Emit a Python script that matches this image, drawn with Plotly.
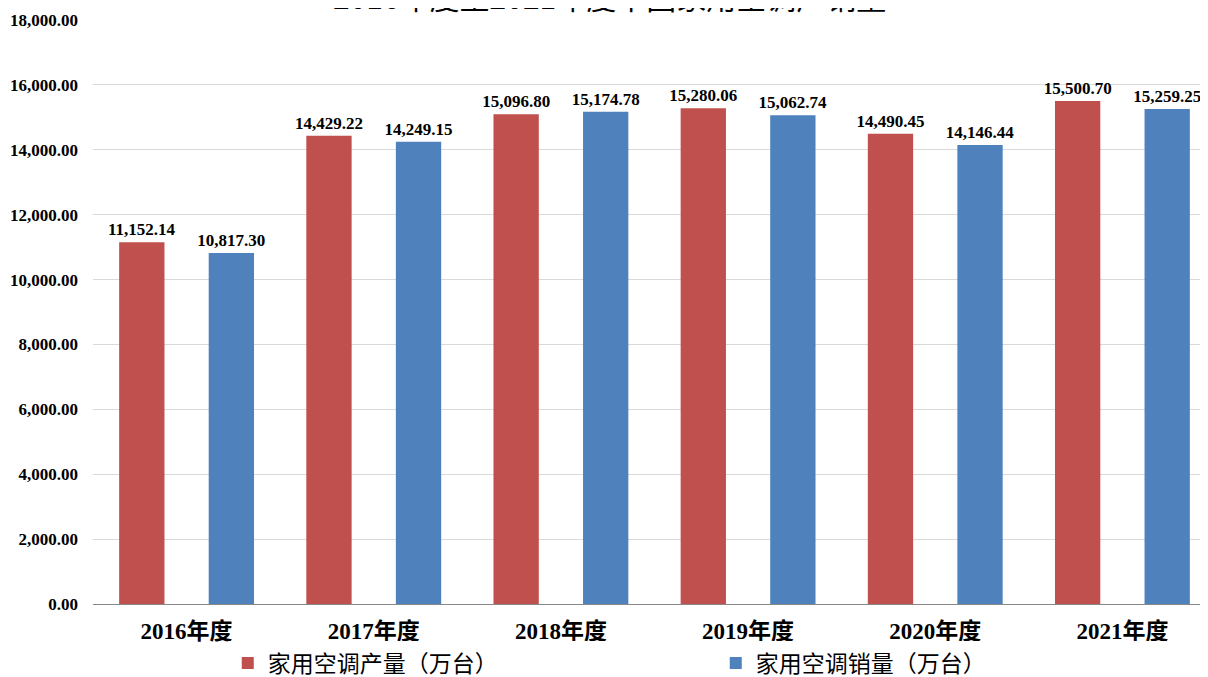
import plotly.graph_objects as go

categories = ["2016年度", "2017年度", "2018年度", "2019年度", "2020年度", "2021年度"]
production = [11152.14, 14429.22, 15096.80, 15280.06, 14490.45, 15500.70]
sales = [10817.30, 14249.15, 15174.78, 15062.74, 14146.44, 15259.25]
series_names = ["家用空调产量（万台）", "家用空调销量（万台）"]
title_text = "2016年度至2021年度中国家用空调产销量"

serif = "Liberation Serif, Noto Sans CJK SC"

fig = go.Figure()
for name, vals, color in [(series_names[0], production, "#C0504D"),
                          (series_names[1], sales, "#4F81BD")]:
    fig.add_trace(go.Bar(
        x=categories, y=vals, name=name,
        marker=dict(color=color, line=dict(width=0)),
        texttemplate="<b>%{y:,.2f}</b>", textposition="outside",
        constraintext="none",
        textfont=dict(family=serif, size=17, color="black"),
        cliponaxis=False,
    ))

fig.add_annotation(text=title_text, xref="paper", yref="paper",
                   x=0.4595, y=1, xanchor="center", yanchor="middle",
                   yshift=24, showarrow=False,
                   font=dict(family="Noto Sans CJK SC", size=30, color="black"))

fig.update_layout(
    width=1208, height=677,
    margin=dict(l=85, r=0, t=12, b=81, autoexpand=False),
    paper_bgcolor="white", plot_bgcolor="white",
    barmode="group", bargap=0.043, bargroupgap=0.494,
    showlegend=True,
    legend=dict(orientation="h", x=0.12, xanchor="left",
                y=0.0325, yref="container", yanchor="middle",
                entrywidth=443, entrywidthmode="pixels",
                font=dict(family=serif, size=23, color="black"),
                itemwidth=30, traceorder="normal"),
    xaxis=dict(showline=True, linecolor="#898989", linewidth=1,
               tickfont=dict(family=serif, size=23, color="black"),
               ticks="", tickprefix="<b>", ticksuffix="</b>",
               ticklabelstandoff=6, automargin=False),
    yaxis=dict(range=[0, 18000], dtick=2000, tickformat=",.2f",
               showgrid=True, gridcolor="#d9d9d9", gridwidth=1,
               zeroline=False, showline=False, automargin=False,
               tickfont=dict(family=serif, size=17, color="black"),
               tickprefix="<b>", ticksuffix="</b>", ticklabelstandoff=14),
)

fig.write_html("out.html")
